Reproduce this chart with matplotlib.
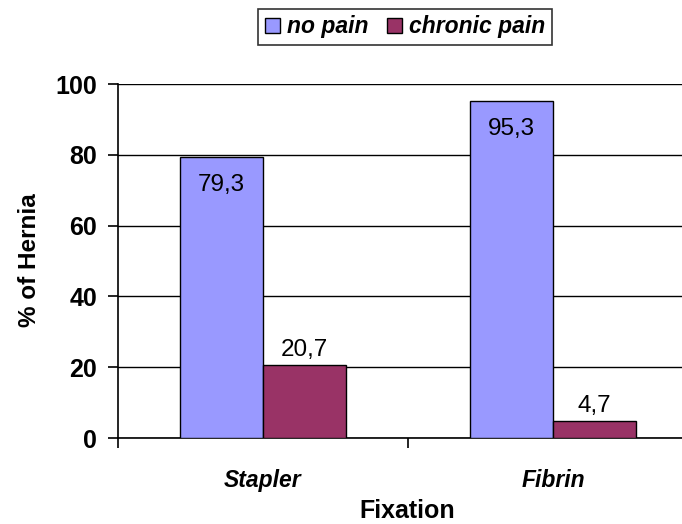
import matplotlib.pyplot as plt
import numpy as np

plt.rcParams['font.family'] = ['Liberation Sans', 'DejaVu Sans']

categories = ['Stapler', 'Fibrin']
no_pain = [79.3, 95.3]
chronic_pain = [20.7, 4.7]
series_names = ['no pain', 'chronic pain']
value_labels_no = ['79,3', '95,3']
value_labels_ch = ['20,7', '4,7']

fig = plt.figure(figsize=(6.82, 5.24), dpi=100)
ax = fig.add_axes([118 / 682, 86 / 524, 580 / 682, 354 / 524])

x = np.arange(len(categories))
w = 0.286
b1 = ax.bar(x - w / 2, no_pain, width=w, color='#9999FF', edgecolor='black', linewidth=1, label=series_names[0], zorder=3)
b2 = ax.bar(x + w / 2, chronic_pain, width=w, color='#993366', edgecolor='black', linewidth=1, label=series_names[1], zorder=3)

for rect, lab in zip(b1, value_labels_no):
    ax.annotate(lab, (rect.get_x() + rect.get_width() / 2, rect.get_height()),
                xytext=(0, -28), textcoords='offset pixels', ha='center', va='center', fontsize=17.5)
for rect, lab in zip(b2, value_labels_ch):
    ax.annotate(lab, (rect.get_x() + rect.get_width() / 2, rect.get_height()),
                xytext=(0, 15), textcoords='offset pixels', ha='center', va='center', fontsize=17.5)

ax.set_xlim(-0.5, 1.5)
ax.set_ylim(0, 100)
ax.set_yticks([0, 20, 40, 60, 80, 100])
ax.yaxis.grid(True, color='black', linewidth=1, zorder=0)
ax.set_axisbelow(True)
for s in ['top', 'right']:
    ax.spines[s].set_visible(False)
ax.spines['left'].set_linewidth(1.2)
ax.spines['bottom'].set_linewidth(1.2)

ax.set_xticks([-0.5, 0.5, 1.5])
ax.set_xticklabels([])
ax.set_xticks(x, minor=True)
ax.set_xticklabels(categories, minor=True, fontsize=16.5, fontweight='bold', fontstyle='italic')
ax.tick_params(axis='x', which='minor', length=0, pad=22)
ax.tick_params(axis='x', which='major', length=7, width=1.2)
ax.tick_params(axis='y', length=7, width=1.2, labelsize=18, pad=8)
for t in ax.get_yticklabels():
    t.set_fontweight('bold')

ax.set_xlabel('Fixation', fontsize=18, fontweight='bold', va='center')
ax.xaxis.set_label_coords(0.498, -0.205)
ax.set_ylabel('% of Hernia', fontsize=17.5, fontweight='bold', va='center')
ax.yaxis.set_label_coords(-0.152, 0.503)

leg = fig.legend(loc='center', bbox_to_anchor=(405 / 682, 1 - 27 / 524), ncol=2,
                 prop={'weight': 'bold', 'style': 'italic', 'size': 16.5},
                 frameon=True, fancybox=False, edgecolor='black', handlelength=0.65,
                 handleheight=0.65, handletextpad=0.3, columnspacing=0.8, borderpad=0.3)
leg.get_frame().set_linewidth(1.2)

fig.savefig('out.png', dpi=100)
